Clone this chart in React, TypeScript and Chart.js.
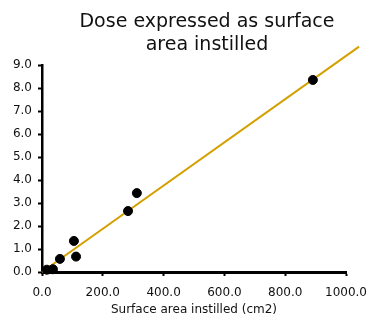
import React, { useEffect, useRef } from "react";
import { Chart, registerables } from "chart.js";

Chart.register(...registerables);

const titleLines = ["Dose expressed as surface", "area instilled"];
const xAxisTitle = "Surface area instilled (cm2)";
const pointX = [16, 36, 59, 105, 112, 283, 312, 891];
const pointY = [0.1, 0.12, 0.57, 1.35, 0.67, 2.65, 3.43, 8.35];
const trendX = [0, 1043];
const trendY = [0, 9.8];
const xTicks = [0, 200, 400, 600, 800, 1000];
const yTicks = [0, 1, 2, 3, 4, 5, 6, 7, 8, 9];

const titlePlugin = {
  id: "customTitle",
  afterDraw(chart: any) {
    const ctx = chart.ctx;
    ctx.save();
    ctx.font = '19px "DejaVu Sans"';
    ctx.fillStyle = "#111";
    ctx.textAlign = "center";
    ctx.textBaseline = "alphabetic";
    ctx.fillText(titleLines[0], 207, 27);
    ctx.fillText(titleLines[1], 207, 50);
    ctx.restore();
  },
};

export default function App() {
  const ref = useRef<HTMLCanvasElement>(null);
  useEffect(() => {
    const chart = new Chart(ref.current!, {
      type: "scatter",
      data: {
        datasets: [
          {
            type: "line",
            data: trendX.map((x, i) => ({ x, y: trendY[i] })),
            borderColor: "#D4A000",
            borderWidth: 2,
            pointRadius: 0,
            fill: false,
            clip: false as any,
            order: 2,
          } as any,
          {
            data: pointX.map((x, i) => ({ x, y: pointY[i] })),
            backgroundColor: "#000",
            borderColor: "#000",
            pointRadius: 4.5,
            clip: false as any,
            order: 1,
          },
        ],
      },
      options: {
        responsive: false,
        animation: false,
        layout: { padding: { top: 65, right: 25, left: 0, bottom: 0 } },
        plugins: { legend: { display: false }, tooltip: { enabled: false }, title: { display: false } },
        scales: {
          x: {
            type: "linear",
            min: 0,
            max: 1000,
            afterBuildTicks: (s: any) => { s.ticks = xTicks.map((v) => ({ value: v })); },
            afterFit: (s: any) => { s.height = 51; s.paddingRight = 25; s.paddingLeft = 0; },
            ticks: {
              callback: (v: any) => Number(v).toFixed(1),
              color: "#111",
              font: { family: "DejaVu Sans", size: 12 },
              padding: 10,
              maxRotation: 0,
            },
            grid: { drawOnChartArea: false, tickLength: 4, tickColor: "#000", tickWidth: 2 },
            border: { color: "#000", width: 3 },
            title: {
              display: true,
              text: xAxisTitle,
              color: "#111",
              font: { family: "DejaVu Sans", size: 12 },
              padding: { top: 0, bottom: 6 },
            },
          },
          y: {
            type: "linear",
            min: 0,
            max: 9,
            afterBuildTicks: (s: any) => { s.ticks = yTicks.map((v) => ({ value: v })); },
            afterFit: (s: any) => { s.width = 42; },
            ticks: {
              callback: (v: any) => Number(v).toFixed(1),
              color: "#111",
              font: { family: "DejaVu Sans", size: 12 },
              padding: 6,
            },
            grid: { drawOnChartArea: false, tickLength: 4, tickColor: "#000", tickWidth: 2 },
            border: { color: "#000", width: 2.5 },
          },
        },
      },
      plugins: [titlePlugin],
    } as any);
    return () => chart.destroy();
  }, []);
  return (
    <div style={{ position: "fixed", left: 0, top: 0, width: 371, height: 323, background: "#fff" }}>
      <canvas ref={ref} width={371} height={323} />
    </div>
  );
}
